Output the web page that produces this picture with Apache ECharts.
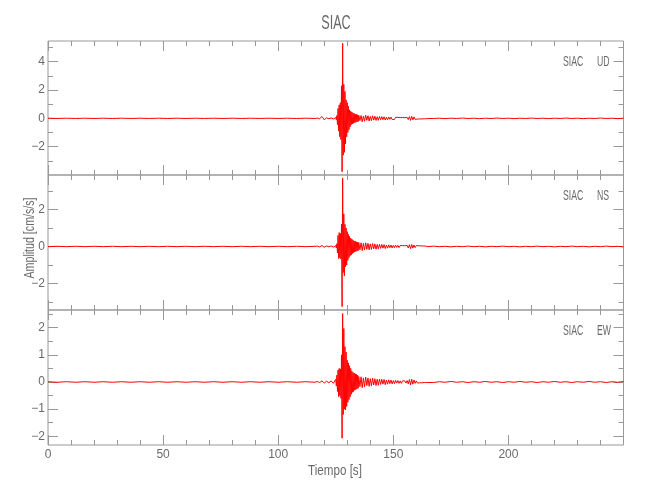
<!DOCTYPE html>
<html>
<head>
<meta charset="utf-8">
<script src="https://cdn.jsdelivr.net/npm/echarts@6/dist/echarts.min.js"></script>
<style>html,body{margin:0;padding:0;background:#fff}#c{width:650px;height:500px}</style>
</head>
<body>
<div id="c"></div>
<script>
// ---- sampling grid: [start time (s), step (s), count]
const timeSegments = [[0, 4, 30], [117, 1, 8], [125, 0.25, 40], [135, 0.5, 60], [165, 2.5, 35]];

// ---- UD component (cm/s/s)
const udPre = [0.01,-0.01,0.01,-0.01,0.01,-0.01,0.01,-0.01,0.01,-0.01,0.01,-0.01,0.01,-0.01,0.01,-0.01,0.01,-0.01,0.01,-0.01,0.01,-0.01,0.01,-0.01,0.01,-0.01,0.01,-0.01,0.01,-0.01];
const udOnset = [0.02,-0.03,0.13,-0.1,0.04,-0.03,0.03,-0.04];
const udBurst = [0.06,-0.1,0.2,-0.45,0.7,-0.9,0.95,-1.3,1.1,-1.5,2.3,-3.77,5.3,-2.6,2.4,-2.4,1.9,-1.8,1.3,-1.3,1.1,-1.0,0.85,-0.8,0.6,-0.6,0.5,-0.45,0.45,-0.4,0.38,-0.35,0.35,-0.3,0.3,-0.28,0.27,-0.25,0.25,-0.22];
const udCoda = [0.22,-0.16,0.2,-0.24,0.15,-0.2,0.22,-0.14,0.18,-0.19,
  0.13,-0.16,0.18,-0.12,0.15,-0.15,0.11,-0.14,0.13,-0.1,
  0.12,-0.09,0.11,-0.12,0.08,-0.1,0.1,-0.07,0.09,-0.08,
  0.06,-0.08,0.07,-0.05,0.07,-0.06,0.05,-0.06,0.06,-0.04,
  0.05,-0.05,0.07,-0.09,0.12,-0.15,0.14,-0.11,0.1,-0.07,
  0.06,-0.05,0.05,-0.04,0.04,-0.04,0.03,-0.03,0.03,-0.02];
const udTail = [0.02,-0.01,0.01,-0.02,0.01,-0.01,0.02,-0.01,0.01,-0.02,0.01,-0.01,0.02,-0.01,0.01,-0.02,0.01,-0.01,0.02,-0.01,0.01,-0.02,0.01,-0.01,0.02,-0.01,0.01,-0.02,0.01,-0.01,0.02,-0.01,0.01,-0.02,0.01];

// ---- NS component
const nsPre = [-0.01,0.01,-0.01,0.01,-0.01,0.01,-0.01,0.01,-0.01,0.01,-0.01,0.01,-0.01,0.01,-0.01,0.01,-0.01,0.01,-0.01,0.01,-0.01,0.01,-0.01,0.01,-0.01,0.01,-0.01,0.01,-0.01,0.01];
const nsOnset = [0.02,-0.02,0.05,-0.04,0.03,-0.02,0.03,-0.03];
const nsBurst = [0.05,-0.08,0.15,-0.35,0.6,-0.65,0.75,-0.6,0.7,-0.68,1.2,-3.25,3.7,-1.4,1.76,-1.58,1.2,-1.1,1.0,-1.0,0.8,-0.75,0.65,-0.6,0.55,-0.5,0.45,-0.45,0.4,-0.38,0.35,-0.33,0.3,-0.3,0.28,-0.27,0.25,-0.24,0.23,-0.22];
const nsCoda = [0.22,-0.18,0.2,-0.22,0.17,-0.19,0.2,-0.15,0.17,-0.18,
  0.14,-0.16,0.16,-0.13,0.14,-0.15,0.11,-0.13,0.12,-0.1,
  0.11,-0.09,0.1,-0.11,0.08,-0.09,0.09,-0.07,0.08,-0.08,
  0.06,-0.07,0.07,-0.05,0.06,-0.06,0.05,-0.05,0.05,-0.04,
  0.04,-0.05,0.06,-0.08,0.1,-0.12,0.11,-0.09,0.08,-0.06,
  0.05,-0.04,0.04,-0.04,0.03,-0.03,0.03,-0.02,0.02,-0.02];
const nsTail = [-0.01,0.02,-0.01,0.01,-0.02,0.01,-0.01,0.02,-0.01,0.01,-0.02,0.01,-0.01,0.02,-0.01,0.01,-0.02,0.01,-0.01,0.02,-0.01,0.01,-0.02,0.01,-0.01,0.02,-0.01,0.01,-0.02,0.01,-0.01,0.02,-0.01,0.01,-0.02];

// ---- EW component
const ewPre = [0.01,-0.01,0.01,-0.01,0.01,-0.01,0.01,-0.01,0.01,-0.01,0.01,-0.01,0.01,-0.01,0.01,-0.01,0.01,-0.01,0.01,-0.01,0.01,-0.01,0.01,-0.01,0.01,-0.01,0.01,-0.01,0.01,-0.01];
const ewOnset = [0.02,-0.02,0.04,-0.04,0.03,-0.03,0.04,-0.05];
const ewBurst = [0.1,-0.15,0.25,-0.35,0.44,-0.54,0.5,-0.5,0.48,-0.6,1.0,-2.07,2.52,-1.2,1.97,-1.0,1.3,-1.03,1.1,-0.9,0.8,-0.75,0.7,-0.65,0.6,-0.55,0.5,-0.45,0.4,-0.38,0.35,-0.35,0.33,-0.3,0.3,-0.28,0.28,-0.25,0.25,-0.23];
const ewCoda = [0.2,-0.17,0.19,-0.21,0.15,-0.18,0.18,-0.13,0.15,-0.16,
  0.12,-0.14,0.14,-0.11,0.12,-0.13,0.1,-0.12,0.11,-0.09,
  0.1,-0.08,0.09,-0.1,0.07,-0.08,0.08,-0.06,0.07,-0.07,
  0.05,-0.06,0.06,-0.04,0.05,-0.05,0.04,-0.05,0.04,-0.03,
  0.04,-0.04,0.05,-0.07,0.09,-0.11,0.1,-0.08,0.07,-0.05,
  0.04,-0.04,0.03,-0.03,0.03,-0.03,0.02,-0.02,0.02,-0.02];
const ewTail = [0.01,-0.02,0.01,-0.01,0.02,-0.01,0.01,-0.02,0.01,-0.01,0.02,-0.01,0.01,-0.02,0.01,-0.01,0.02,-0.01,0.01,-0.02,0.01,-0.01,0.02,-0.01,0.01,-0.02,0.01,-0.01,0.02,-0.01,0.01,-0.02,0.01,-0.01,0.02];

// ---- axes
const timeRange = [0, 250];
const timeTicks = [0, 50, 100, 150, 200];
const station = 'SIAC';
const components = ['UD', 'NS', 'EW'];
const xTitle = 'Tiempo [s]';
const yTitle = 'Amplitud [cm/s/s]';
const yRanges = [[-4.0, 5.46], [-3.43, 3.86], [-2.32, 2.65]];
const yMajor = [[-2, 0, 2, 4], [-2, 0, 2], [-2, -1, 0, 1, 2]];
const yMinor = [[-3, -1, 1, 3, 5], [-3, -1, 1, 3], [-1.5, -0.5, 0.5, 1.5, 2.5]];

const traces = [
  [udPre, udOnset, udBurst, udCoda, udTail],
  [nsPre, nsOnset, nsBurst, nsCoda, nsTail],
  [ewPre, ewOnset, ewBurst, ewCoda, ewTail]
];

// build time grid
const times = [];
timeSegments.forEach(([s, d, n]) => { for (let i = 0; i < n; i++) times.push(+(s + i * d).toFixed(3)); });

const FONT = '"Liberation Sans", Arial, sans-serif';
const TXT = '#6a6a6a';
const AX = '#999';

const gridTops = [41, 175, 310];
const gridHeights = [134, 135, 135];
const grids = gridTops.map((t, i) => ({
  left: 48, right: 26.5, top: t, height: gridHeights[i],
  show: true, borderColor: AX, borderWidth: 1, backgroundColor: 'transparent'
}));

const xAxes = [];
const yAxes = [];
const series = [];
const fmt = v => String(v).replace('-', '\u2212');

for (let i = 0; i < 3; i++) {
  ['bottom', 'top'].forEach(pos => {
    const isLabel = (i === 2 && pos === 'bottom');
    xAxes.push({
      gridIndex: i, type: 'value', position: pos, min: timeRange[0], max: timeRange[1], interval: 50,
      axisLine: { show: false, onZero: false },
      axisTick: { show: true, inside: true, length: 10, lineStyle: { color: AX } },
      minorTick: { show: true, splitNumber: 5, length: 5, lineStyle: { color: AX } },
      splitLine: { show: false }, minorSplitLine: { show: false },
      axisLabel: { show: isLabel, customValues: timeTicks, margin: 4, color: TXT, fontFamily: FONT, fontSize: 12 }
    });
  });
  ['left', 'right'].forEach(pos => {
    [true, false].forEach(major => {
      yAxes.push({
        gridIndex: i, type: 'value', position: pos, min: yRanges[i][0], max: yRanges[i][1],
        axisLine: { show: false, onZero: false },
        axisTick: { show: true, inside: true, length: major ? 10 : 5, customValues: major ? yMajor[i] : yMinor[i], lineStyle: { color: AX } },
        splitLine: { show: false },
        axisLabel: { show: major && pos === 'left', customValues: yMajor[i], formatter: fmt, margin: 3, color: TXT, fontFamily: FONT, fontSize: 12 }
      });
    });
  });
  const vals = [].concat(...traces[i]);
  series.push({
    type: 'line', xAxisIndex: i * 2, yAxisIndex: i * 4,
    data: times.map((t, k) => [t, vals[k]]),
    showSymbol: false, symbol: 'none', animation: false,
    lineStyle: { color: '#ff0000', width: 1 }, clip: true
  });
}

const graphics = [
  { type: 'text', x: 336, y: 23, scaleX: 0.6, style: { text: station, fontFamily: FONT, fontSize: 21, fill: TXT, align: 'center', verticalAlign: 'middle' } },
  { type: 'text', x: 30, y: 238, rotation: Math.PI / 2, scaleX: 0.76, style: { text: yTitle, fontFamily: FONT, fontSize: 14, fill: TXT, align: 'center', verticalAlign: 'middle' } },
  { type: 'text', x: 335, y: 471, scaleX: 0.83, style: { text: xTitle, fontFamily: FONT, fontSize: 14, fill: TXT, align: 'center', verticalAlign: 'middle' } }
];
gridTops.forEach((t, i) => {
  graphics.push({ type: 'text', x: 563, y: t + 20.5, scaleX: 0.6, style: { text: station, fontFamily: FONT, fontSize: 14.5, fill: TXT, align: 'left', verticalAlign: 'middle' } });
  graphics.push({ type: 'text', x: 597, y: t + 20.5, scaleX: 0.6, style: { text: components[i], fontFamily: FONT, fontSize: 14.5, fill: TXT, align: 'left', verticalAlign: 'middle' } });
});

const chart = echarts.init(document.getElementById('c'), null, { renderer: 'canvas' });
chart.setOption({
  animation: false,
  backgroundColor: '#fff',
  grid: grids,
  xAxis: xAxes,
  yAxis: yAxes,
  series: series,
  graphic: graphics
});
</script>
</body>
</html>
